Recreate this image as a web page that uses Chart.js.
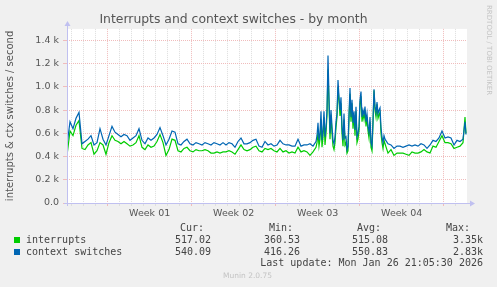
<!DOCTYPE html>
<html>
<head>
<meta charset="utf-8">
<script src="https://cdn.jsdelivr.net/npm/chart.js@4/dist/chart.umd.min.js"></script>
<style>
html, body { margin: 0; padding: 0; background: #f0f0f0; }
#wrap { position: relative; width: 497px; height: 287px; overflow: hidden; }
canvas { position: absolute; left: 0; top: 0; }
.t { position: absolute; white-space: pre; font-family: "DejaVu Sans Mono", monospace; font-size: 10px; line-height: 12px; color: #444; }
.sq { position: absolute; width: 6px; height: 6px; }
#rrd { position: absolute; left: 485px; top: 5px; writing-mode: vertical-rl; font-family: "DejaVu Sans", sans-serif; font-size: 7px; color: #c4c4c4; }
#munin { position: absolute; left: 0; width: 495px; top: 271px; text-align: center; font-family: "DejaVu Sans", sans-serif; font-size: 7.5px; color: #c4c4c4; }
</style>
</head>
<body>
<div id="wrap">
  <canvas id="grafico" width="497" height="287"></canvas>
  <div id="rrd">RRDTOOL / TOBI OETIKER</div>
  <div id="munin">Munin 2.0.75</div>
  <div id="leyenda"></div>
</div>
<script>
// time in hours from the left edge of the graph
let horas = [
  0,6,12,18,24,30,36,42,48,54,60,66,72,78,84,90,96,102,108,114,120,126,132,138,144,150,156,162,168,174,
  180,186,192,198,204,210,216,222,228,234,240,246,252,258,264,270,276,282,288,294,300,306,312,318,324,330,
  336,342,348,354,360,366,372,378,384,390,396,402,408,414,420,426,432,438,444,450,456,462,468,474,480,486,492,
  498,500,502,504,506,508,510,512,514,516,518,520,522,524,526,528,530,532,534,536,538,540,542,544,546,548,
  550,552,554,556,558,560,562,564,566,568,570,572,574,576,578,580,582,584,586,588,590,592,594,596,598,600,
  602,604,606,608,610,612,614,616,618,620,622,624,626,628,630,632,634,636,
  642,648,654,660,666,672,678,684,690,696,702,708,714,720,726,732,738,744,750,756,762,768,774,780,786,792,796,798
];

let interrupciones = [
  410,620,580,670,710,470,460,500,520,420,450,520,500,420,520,580,540,530,510,530,510,490,500,520,580,480,460,500,480,490,
  530,590,520,410,460,550,540,450,440,470,480,450,440,460,450,450,460,450,430,430,440,430,440,440,450,440,420,460,500,460,
  450,460,480,490,450,440,470,460,470,450,440,470,440,450,430,440,430,480,440,450,440,410,440,
  480,520,610,490,550,720,480,570,740,500,600,760,1150,850,550,760,600,490,460,520,
  650,740,1000,880,750,860,600,490,720,500,520,430,450,720,940,700,860,640,760,580,
  790,520,550,620,850,920,700,770,720,800,660,740,620,560,700,480,450,680,970,800,
  740,850,730,760,780,600,520,470,540,510,
  430,460,410,430,430,430,420,410,440,430,430,440,460,440,430,490,480,530,580,520,520,510,470,480,490,520,740,600
];

let cambiosContexto = [
  500,700,640,730,780,510,530,550,580,500,520,640,550,500,580,660,610,590,570,590,580,540,560,580,640,540,510,560,540,560,
  590,650,580,500,550,620,610,510,500,530,550,510,500,520,510,500,520,510,500,520,510,500,520,500,520,510,480,530,560,510,
  510,520,540,550,490,480,530,500,510,490,500,540,510,500,500,490,490,550,490,500,500,510,490,
  530,580,690,540,600,790,540,630,790,570,650,800,1270,910,600,800,660,540,510,570,
  700,770,1060,910,800,910,660,540,770,560,570,460,490,770,990,740,890,690,790,630,
  830,570,600,660,890,960,740,800,760,830,700,770,660,610,740,520,490,710,980,830,
  780,870,770,800,820,650,570,520,580,550,
  510,500,470,490,490,480,490,500,490,500,490,510,500,470,500,540,530,560,620,560,570,560,500,540,530,550,700,590
];

let semanas = ["Week 01", "Week 02", "Week 03", "Week 04"];
let nombres = ["interrupts", "context switches"];
let colores = ["#00cc00", "#0066b3"];
let actual = ["517.02", "540.09"];
let minimo = ["360.53", "416.26"];
let promedio = ["515.08", "550.83"];
let maximo = ["3.35k", "2.83k"];
let ultima = "Last update: Mon Jan 26 21:05:30 2026";

function serie(valores) {
  return horas.map((h, i) => ({ x: h, y: valores[i] }));
}

// legend table under the graph
function crearLeyenda() {
  let html = "";
  let cab = ["Cur:", "Min:", "Avg:", "Max:"];
  let derHead = [293, 204, 116, 27];
  let derVal = [286, 197, 109, 14];
  cab.forEach((c, i) => {
    html += `<div class="t" style="right:${derHead[i]}px;top:222px">${c}</div>`;
  });
  let cols = [actual, minimo, promedio, maximo];
  nombres.forEach((n, f) => {
    let top = 234 + f * 12;
    html += `<div class="sq" style="left:14px;top:${top + 3}px;background:${colores[f]}"></div>`;
    html += `<div class="t" style="left:26px;top:${top}px">${n}</div>`;
    cols.forEach((col, i) => {
      html += `<div class="t" style="right:${derVal[i]}px;top:${top}px">${col[f]}</div>`;
    });
  });
  html += `<div class="t" style="right:14px;top:257px">${ultima}</div>`;
  document.getElementById("leyenda").innerHTML = html;
}

const fondo = {
  id: "fondo",
  beforeDraw(chart) {
    let { ctx, chartArea: a } = chart;
    ctx.save();
    ctx.fillStyle = "#ffffff";
    ctx.fillRect(a.left, a.top, a.right - a.left, a.bottom - a.top);
    ctx.restore();
  },
  afterDraw(chart) {
    let { ctx, chartArea: a } = chart;
    ctx.save();
    ctx.strokeStyle = "#c0c0f0";
    ctx.fillStyle = "#c0c0f0";
    ctx.lineWidth = 1;
    ctx.beginPath();
    ctx.moveTo(a.left - 3, a.bottom + 0.5);
    ctx.lineTo(a.right + 3, a.bottom + 0.5);
    ctx.moveTo(a.left + 0.5, a.bottom + 3);
    ctx.lineTo(a.left + 0.5, a.top - 3);
    ctx.stroke();
    ctx.beginPath();
    ctx.moveTo(a.right + 3, a.bottom - 2.5);
    ctx.lineTo(a.right + 8, a.bottom + 0.5);
    ctx.lineTo(a.right + 3, a.bottom + 3.5);
    ctx.fill();
    ctx.beginPath();
    ctx.moveTo(a.left - 2.5, a.top - 3);
    ctx.lineTo(a.left + 0.5, a.top - 8);
    ctx.lineTo(a.left + 3.5, a.top - 3);
    ctx.fill();
    ctx.restore();
  }
};

const rojo = "#f0bcbc";
const gris = "#dedede";

new Chart(document.getElementById("grafico").getContext("2d"), {
  type: "line",
  data: {
    datasets: [
      { label: nombres[1], data: serie(cambiosContexto), borderColor: colores[1], borderWidth: 1.2, pointRadius: 0, order: 0 },
      { label: nombres[0], data: serie(interrupciones), borderColor: colores[0], borderWidth: 1.2, pointRadius: 0, order: 1 }
    ]
  },
  options: {
    responsive: false,
    animation: false,
    layout: { padding: { left: 0, right: 30, top: 0, bottom: 64 } },
    plugins: {
      legend: { display: false },
      tooltip: { enabled: false },
      title: {
        display: true,
        text: "Interrupts and context switches - by month",
        color: "#555",
        font: { family: "DejaVu Sans", size: 12.4, weight: "normal" },
        padding: { top: 12, bottom: 2 }
      }
    },
    scales: {
      x: {
        type: "linear",
        min: 0,
        max: 800,
        afterBuildTicks(scale) {
          let t = [];
          for (let k = 0; 28 / 3 + 12 * k <= 800; k++) t.push({ value: 28 / 3 + 12 * k });
          scale.ticks = t;
        },
        afterFit(scale) { scale.height = 20; },
        ticks: {
          autoSkip: false,
          maxRotation: 0,
          padding: 2,
          color: "#555",
          font: { family: "DejaVu Sans", size: 9.5 },
          callback(v, i) { return (i - 13) % 14 === 0 ? semanas[(i - 13) / 14] : ""; }
        },
        grid: {
          tickLength: 3,
          color(c) {
            let k = c.index;
            if (k % 2) return "rgba(0,0,0,0)";
            return (k - 6) % 14 === 0 ? rojo : gris;
          }
        },
        border: { display: false, dash: [1, 1] }
      },
      y: {
        min: 0,
        max: 1500,
        afterFit(scale) { scale.width = 67; },
        ticks: {
          stepSize: 100,
          padding: 4,
          color: "#555",
          font: { family: "DejaVu Sans", size: 9.5 },
          callback(v) {
            if (v % 200 !== 0) return "";
            return v === 0 ? "0.0" : (v / 1000).toFixed(1) + " k";
          }
        },
        grid: {
          tickLength: 4,
          color(c) { return c.tick && c.tick.value % 200 === 0 ? rojo : gris; }
        },
        border: { display: false, dash: [1, 1] },
        title: {
          display: true,
          text: "interrupts & ctx switches / second",
          color: "#555",
          font: { family: "DejaVu Sans", size: 10 },
          padding: { top: 4, bottom: 0 }
        }
      }
    }
  },
  plugins: [fondo]
});

crearLeyenda();
</script>
</body>
</html>
